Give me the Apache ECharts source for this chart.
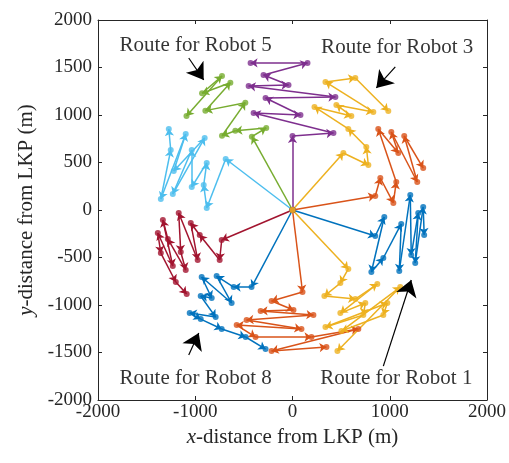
<!DOCTYPE html>
<html>
<head>
<meta charset="utf-8">
<script src="https://cdn.jsdelivr.net/npm/echarts@6/dist/echarts.min.js"></script>
<style>
html, body { margin: 0; padding: 0; background: #fff; }
#main { width: 509px; height: 463px; }
</style>
</head>
<body>
<div id="main"></div>
<script>
// route waypoints (m), each route starts at the LKP (0,0)
var route1 = [[851,-274],[944,-74],[811,-653],[934,-505],[1118,-147],[1098,-642],[1211,158],[1221,-474],[1293,-32],[1262,-558],[1344,32],[1354,-263]];
var route2 = [[851,147],[903,337],[1037,74],[1067,295],[882,853],[1088,600],[1016,821],[1283,295],[1149,779],[1344,442]];
var route3 = [[523,600],[780,474],[759,663],[574,853],[226,1085],[605,990],[451,1106],[831,1032],[339,1348],[646,1390],[985,1042]];
var route4 = [[0,779],[421,811],[-400,1021],[82,1000],[-277,1179],[441,1190],[-451,1306],[-41,1316],[-298,1421],[154,1548],[-431,1548]];
var route5 = [[-418,772],[-270,863],[-588,835],[-725,782],[-485,1130],[-896,1046],[-639,1340],[-930,1229],[-725,1411],[-1090,990]];
var route6 = [[-687,537],[-882,21],[-913,263],[-882,495],[-1036,242],[-1036,632],[-1231,168],[-903,758],[-1221,411],[-1098,800],[-1354,116],[-1252,632],[-1272,853]];
var route7 = [[-728,-316],[-749,-526],[-954,-263],[-1046,-137],[-975,-526],[-1170,-32],[-1149,-442],[-1098,-632],[-1282,-305],[-1333,-105],[-1231,-590],[-1385,-242],[-1354,-453],[-1200,-758],[-1088,-885]];
var route8 = [[-421,-811],[-605,-811],[-780,-695],[-626,-979],[-934,-705],[-831,-926],[-944,-905],[-790,-1127],[-1057,-1085],[-944,-1148],[-728,-1253],[-482,-1337],[-277,-1464]];
var route9 = [[103,-863],[-215,-958],[10,-1053],[-328,-1064],[215,-1106],[-472,-1158],[92,-1253],[-574,-1211],[-380,-1337],[195,-1337],[677,-1253],[-215,-1485],[349,-1443]];
var route10 = [[574,-621],[492,-769],[328,-905],[646,-937],[872,-779],[492,-1085],[749,-979],[728,-1106],[339,-1232],[975,-979],[934,-1106],[503,-1274],[1108,-811],[462,-1485]];

var routes = [route1, route2, route3, route4, route5, route6, route7, route8, route9, route10];
var colors = ['#0072BD', '#D95319', '#EDB120', '#7E2F8E', '#77AC30', '#4DBEEE', '#A2142F'];

// annotations: label position, arrow start, arrow end
var noteText = ['Route for Robot 5', 'Route for Robot 3', 'Route for Robot 8', 'Route for Robot 1'];
var notePos = [[-995,1737],[1077,1706],[-995,-1769],[1067,-1769]];
var noteFrom = [[-1067,1600],[1057,1506],[-1067,-1527],[934,-1643]];
var noteTo = [[-913,1369],[862,1285],[-964,-1295],[1221,-737]];

var serif = 'Liberation Serif';
var series = [];
routes.forEach(function (r, i) {
    var c = colors[i % colors.length];
    var pts = [[0, 0]].concat(r);
    var segs = [];
    for (var k = 0; k < pts.length - 1; k++) {
        segs.push({ coords: [pts[k], pts[k + 1]] });
    }
    series.push({
        type: 'lines',
        coordinateSystem: 'cartesian2d',
        data: segs,
        symbol: ['none', 'arrow'],
        symbolSize: 7,
        lineStyle: { color: c, width: 1.5, opacity: 1, curveness: 0 },
        z: 2
    });
    series.push({
        type: 'scatter',
        data: pts,
        symbol: 'circle',
        symbolSize: 6,
        itemStyle: { color: c },
        z: 3
    });
});

series.push({
    type: 'lines',
    coordinateSystem: 'cartesian2d',
    data: noteFrom.map(function (p, i) { return { coords: [p, noteTo[i]] }; }),
    symbol: ['none', 'arrow'],
    symbolSize: [11, 16],
    lineStyle: { color: '#000', width: 1.2, opacity: 1 },
    z: 4
});
series.push({
    type: 'scatter',
    data: notePos.map(function (p, i) { return { value: p, name: noteText[i] }; }),
    symbolSize: 0,
    label: {
        show: true,
        position: 'inside',
        formatter: '{b}',
        color: '#000',
        fontFamily: serif,
        fontSize: 21
    },
    z: 5
});

function makeAxis(step, pos, labels) {
    return {
        type: 'value',
        position: pos,
        min: -2000,
        max: 2000,
        interval: step,
        axisLine: { show: true, onZero: false, lineStyle: { color: '#262626', width: 1 } },
        axisTick: { show: true, inside: true, length: 4, lineStyle: { color: '#262626' } },
        splitLine: { show: false },
        axisLabel: labels ? {
            color: '#262626', fontFamily: serif, fontSize: 19, margin: pos === 'left' ? 6 : 3,
            formatter: function (v) { return String(v); }
        } : { show: false }
    };
}

var titleStyle = {
    color: '#262626', fontFamily: serif, fontSize: 21,
    rich: { i: { fontStyle: 'italic', fontFamily: serif, fontSize: 21, color: '#262626' } }
};

var xMain = makeAxis(1000, 'bottom', true);
xMain.name = '{i|x}-distance from LKP (m)';
xMain.nameLocation = 'middle';
xMain.nameGap = 14;
xMain.nameTextStyle = titleStyle;

var yMain = makeAxis(500, 'left', true);
yMain.name = '{i|y}-distance from LKP (m)';
yMain.nameLocation = 'middle';
yMain.nameGap = 55;
yMain.nameTextStyle = titleStyle;

var option = {
    animation: false,
    grid: { left: 98, right: 21, top: 20, bottom: 63 },
    xAxis: [xMain, makeAxis(1000, 'top', false)],
    yAxis: [yMain, makeAxis(500, 'right', false)],
    series: series
};

var chart = echarts.init(document.getElementById('main'));
chart.setOption(option);
</script>
</body>
</html>
